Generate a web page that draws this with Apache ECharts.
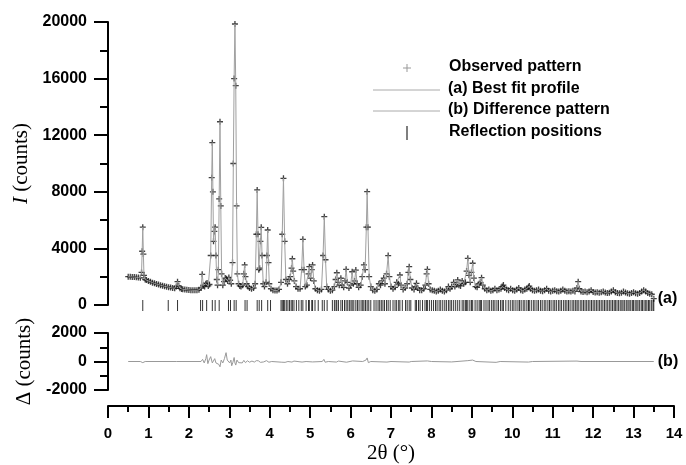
<!DOCTYPE html>
<html>
<head>
<meta charset="utf-8">
<script src="https://cdn.jsdelivr.net/npm/echarts@6/dist/echarts.min.js"></script>
<style>
html,body{margin:0;padding:0;background:#fff;}
#chart{width:686px;height:465px;}
</style>
</head>
<body>
<div id="chart"></div>
<script>
// ---- Observed / fitted profile, [2θ (°), I (counts)] ----
const profileA = [
 [0.50,2000],[0.55,1990],[0.60,1980],[0.65,1970],[0.70,1955],[0.75,1940],[0.80,1920],
 [0.83,2300],[0.845,3800],[0.86,5500],[0.875,3600],[0.89,2100],[0.92,1800],[0.95,1760],
 [1.00,1700],[1.05,1640],[1.10,1580],[1.15,1530],[1.20,1480],[1.25,1440],[1.30,1400],
 [1.35,1360],[1.40,1320],[1.45,1290],[1.50,1260],[1.55,1230],[1.60,1200],[1.65,1180],
 [1.69,1300],[1.72,1650],[1.75,1350],[1.78,1180],[1.82,1130],[1.85,1110],[1.90,1090],
 [1.95,1075],[2.00,1060],[2.05,1050],[2.10,1040],[2.15,1035],[2.20,1040],[2.25,1070]
];
const profileB = [
 [2.30,1200],[2.33,2170],[2.36,1400],[2.39,1300],[2.42,1500],[2.45,1550],[2.48,1350],
 [2.51,1450],[2.54,3500],[2.565,9000],[2.58,11470],[2.595,8000],[2.61,4500],[2.63,5200],
 [2.65,5500],[2.67,3500],[2.69,1800],[2.71,1400],[2.73,2500],[2.75,7500],[2.77,12950],
 [2.79,7000],[2.81,2200],[2.84,1400],[2.87,1650],[2.90,1900],[2.93,1850],[2.96,1700],
 [2.99,1950],[3.02,1750],[3.05,1500],[3.08,3000],[3.10,10000],[3.12,16000],[3.14,19860],
 [3.16,15500],[3.18,7000],[3.20,2200],[3.23,1500],[3.26,1350],[3.29,1300],[3.33,1400],
 [3.36,2200],[3.38,2830],[3.40,2000],[3.43,1500],[3.46,1300],[3.50,1200],[3.55,1150],
 [3.60,1200],[3.64,1500],[3.67,5000],[3.69,8130],[3.71,5000],[3.73,2500],[3.75,2600],
 [3.77,4500],[3.79,5490],[3.81,3500],[3.84,1500],[3.87,1300],[3.91,1600],[3.93,3500],
 [3.95,5300],[3.97,3000],[3.99,1500],[4.03,1150],[4.08,1050],[4.13,1020],[4.18,1020],
 [4.23,1100],[4.28,1600],[4.31,5000],[4.34,8950],[4.37,4500],[4.40,1800],[4.44,1500],
 [4.48,1800],[4.51,2000],[4.54,2600],[4.56,3270],[4.58,2400],[4.61,1700],[4.65,1300],
 [4.70,1150]
];
const profileC = [
 [4.75,1150],[4.79,2500],[4.82,4640],[4.85,2500],[4.88,1300],[4.92,1400],[4.96,2200],
 [4.98,2710],[5.01,1900],[5.04,2500],[5.06,2830],[5.09,1700],[5.13,1150],[5.18,1050],
 [5.23,1000],[5.28,1100],[5.32,3500],[5.35,6240],[5.38,3200],[5.41,1300],[5.45,1100],
 [5.50,1000],[5.55,1050],[5.60,1300],[5.63,1800],[5.66,2280],[5.69,1600],[5.72,1400],
 [5.76,1890],[5.79,1400],[5.83,1250],[5.86,1700],[5.89,2520],[5.92,1600],[5.96,1200],
 [6.00,1400],[6.04,2350],[6.07,1500],[6.10,1700],[6.13,2470],[6.16,1500],[6.20,1250],
 [6.25,1400],[6.29,2000],[6.33,2830],[6.36,2500],[6.39,5500],[6.41,8010],[6.43,5500],
 [6.46,2000],[6.50,1300],[6.55,1050],[6.60,1000],[6.65,1100],[6.70,1500],[6.74,1400],
 [6.78,1700],[6.82,1900],[6.85,1500],[6.89,2200],[6.93,3490],[6.96,2000],[7.00,1300],
 [7.05,1150],[7.10,1250],[7.14,1600],[7.18,1500],[7.22,2120],[7.25,1400],[7.30,1100],
 [7.35,1200],[7.40,1500],[7.43,2300],[7.45,2710],[7.48,1800],[7.52,1200],[7.57,1100],
 [7.60,1300],[7.63,1530],[7.66,1200],[7.71,1050],[7.76,1050],[7.81,1150],[7.85,1400],
 [7.88,2200],[7.90,2520],[7.93,1500],[7.97,1100]
];
const profileD = [
 [8.02,1050],[8.07,1000],[8.12,950],[8.17,1000],[8.22,1100],[8.27,1000],[8.32,950],
 [8.37,1050],[8.42,1300],[8.46,1150],[8.50,1300],[8.55,1600],[8.58,1300],[8.62,1450],
 [8.65,1770],[8.68,1400],[8.72,1350],[8.76,1700],[8.80,1500],[8.84,1600],[8.87,2400],
 [8.90,3300],[8.93,2100],[8.96,1600],[8.99,2300],[9.02,2950],[9.05,1900],[9.09,1300],
 [9.13,1250],[9.18,1500],[9.21,1600],[9.24,1930],[9.27,1400],[9.32,1150],[9.37,1050],
 [9.42,1100],[9.47,1000],[9.52,1050],[9.57,1150],[9.62,1050],[9.67,1100],[9.72,1150],
 [9.75,1300],[9.78,1410],[9.81,1200],[9.86,1100],[9.91,1050],[9.96,1150],[10.01,1050],
 [10.06,1000],[10.11,1100],[10.16,1200],[10.21,1050],[10.26,1000],[10.31,1100],[10.36,1150],
 [10.40,1250],[10.42,1340],[10.45,1150],[10.50,1050],[10.55,1000],[10.60,1050],[10.65,1100],
 [10.70,1000],[10.75,980],[10.80,1050],[10.85,1150],[10.90,1000],[10.95,960],[11.00,1000],
 [11.05,1050],[11.10,980],[11.15,950],[11.20,1000],[11.25,1100],[11.30,1000],[11.35,950],
 [11.40,980],[11.45,950],[11.50,1000],[11.55,960],[11.60,1200],[11.63,1650],[11.66,1150],
 [11.70,950],[11.75,920],[11.80,950],[11.85,900],[11.90,950],[11.95,1050],[12.00,920],
 [12.05,880],[12.10,900],[12.15,870],[12.20,900],[12.25,950],[12.30,880],[12.35,850],
 [12.40,870],[12.45,950],[12.50,1050],[12.55,900],[12.60,850],[12.65,830],[12.70,860],
 [12.75,950],[12.80,880],[12.85,830],[12.90,800],[12.95,850],[13.00,900],[13.05,830],
 [13.10,800],[13.15,850],[13.20,950],[13.25,1050],[13.30,950],[13.35,850],[13.40,800],
 [13.45,760],[13.50,450]
];

// ---- Difference pattern, [2θ, Δ] ----
const differenceProfile = [
 [0.50,0],[0.80,0],[0.84,100],[0.86,-80],[0.88,60],[0.92,0],[1.70,0],[1.72,60],[1.74,0],
 [2.30,0],[2.34,150],[2.38,-100],[2.42,200],[2.44,480],[2.47,-150],[2.50,100],[2.54,340],
 [2.58,-100],[2.61,-190],[2.64,200],[2.67,-100],[2.70,0],[2.74,-200],[2.77,-370],[2.80,100],
 [2.84,-100],[2.88,200],[2.92,620],[2.95,100],[2.98,160],[3.01,-100],[3.04,100],[3.06,-300],
 [3.09,-50],[3.12,280],[3.14,-100],[3.16,-250],[3.19,100],[3.23,-80],[3.27,50],[3.32,-100],
 [3.36,80],[3.40,-80],[3.45,50],[3.50,-50],[3.56,30],[3.62,-40],[3.67,60],[3.69,-80],
 [3.72,50],[3.77,-60],[3.80,40],[3.85,-30],[3.92,60],[3.95,100],[3.98,-50],[4.05,0],
 [4.30,-50],[4.34,-120],[4.38,-60],[4.45,0],[4.55,-40],[4.60,30],[4.80,-40],[4.82,60],
 [4.90,0],[5.06,-30],[5.30,0],[5.34,150],[5.37,-50],[5.45,0],[5.65,-40],[5.70,30],
 [5.90,-50],[6.05,40],[6.30,0],[6.38,100],[6.41,250],[6.44,-80],[6.50,0],[6.90,-40],
 [6.93,50],[7.00,0],[7.45,-40],[7.50,0],[7.90,40],[8.00,0],[8.50,-30],[8.90,60],
 [9.02,100],[9.10,0],[9.60,-60],[9.70,0],[10.40,-40],[10.50,0],[11.60,30],[11.70,0],[13.50,0]
];

// ---- Reflection positions (2θ, °) ----
const reflectionsLow = [0.86,1.49,1.72,2.29,2.34,2.44,2.58,2.65,2.75,2.98,3.03,3.12,3.17,
 3.39,3.44,3.69,3.74,3.80,3.95,4.02];
const reflectionsMid = [4.28,4.31,4.34,4.37,4.41,4.45,4.49,4.53,4.56,4.60,4.66,4.72,4.78,4.82,
 4.90,4.96,4.98,5.04,5.06,5.12,5.20,5.30,5.35,5.42,5.55,5.60,5.64,5.66,5.70,5.76,5.80,5.85,
 5.89,5.93,5.97,6.01,6.04,6.08,6.13,6.17,6.21,6.26,6.30,6.33,6.37,6.41,6.45,6.50,6.58,6.63,
 6.68,6.72,6.76,6.80,6.84,6.89,6.93,6.98,7.05,7.10,7.14,7.19,7.22,7.28,7.36,7.40,7.45,7.49,
 7.60,7.63,7.68,7.72,7.78,7.84,7.88,7.90,7.95,8.00,8.05,8.10,8.14,8.19,8.23,8.28,8.33,8.37,
 8.42,8.46,8.50,8.55,8.60,8.65,8.70,8.76,8.80,8.84,8.87,8.90,8.95,8.99,9.02,9.08,9.13,9.18];
const reflectionsHigh = [9.21,9.24,9.30,9.35,9.40,9.44,9.49,9.53,9.57,9.62,9.66,9.71,9.75,9.78,
 9.84,9.90,9.95,10.00,10.04,10.09,10.14,10.18,10.22,10.27,10.31,10.36,10.40,10.42,10.47,10.52,
 10.56,10.61,10.65,10.70,10.74,10.79,10.83,10.88,10.92,10.96,11.01,11.05,11.09,11.14,11.18,
 11.22,11.27,11.31,11.35,11.39,11.43,11.48,11.52,11.56,11.60,11.63,11.68,11.72,11.76,11.80,
 11.84,11.88,11.92,11.96,12.00,12.04,12.08,12.12,12.16,12.20,12.24,12.28,12.32,12.36,12.40,
 12.44,12.48,12.52,12.55,12.59,12.63,12.67,12.71,12.74,12.78,12.82,12.86,12.89,12.93,12.97,
 13.00,13.04,13.08,13.11,13.15,13.19,13.22,13.26,13.30,13.33,13.37,13.40,13.44,13.48,13.50];

// ---- Axis ticks / labels ----
const xTicks = {min: 0, max: 14, interval: 1};
const yTopTicks = {min: 0, max: 20000, interval: 4000};
const yBottomTicks = {min: -2000, max: 2000, interval: 2000};
const legendLabels = ['Observed pattern', '(a) Best fit profile', '(b) Difference pattern', 'Reflection positions'];

const observed = profileA.concat(profileB, profileC, profileD);
const calculated = observed;
const reflections = reflectionsLow.concat(reflectionsMid, reflectionsHigh).map(v => [v, 0.5]);

const SANS = 'Liberation Sans, Arial, sans-serif';
const SERIF = 'Liberation Serif, Times New Roman, serif';
const plusPath = 'path://M3.9,0h2.2v3.9h3.9v2.2h-3.9v3.9h-2.2v-3.9h-3.9v-2.2h3.9z';

const axisLineStyle = {color: '#000', width: 2};
const plainNumber = v => String(v);
const xLabelStyle = {color: '#000', fontFamily: SANS, fontWeight: 'bold', fontSize: 15, formatter: plainNumber};
const yLabelStyle = {color: '#000', fontFamily: SANS, fontWeight: 'bold', fontSize: 16, formatter: plainNumber};
const nameStyle = {fontFamily: SERIF, fontSize: 21, color: '#000'};

const chart = echarts.init(document.getElementById('chart'), null, {renderer: 'canvas'});
chart.setOption({
  animation: false,
  backgroundColor: '#fff',
  grid: [
    {left: 108, right: 12, top: 22, height: 283},
    {left: 108, right: 12, top: 333, height: 57},
    {left: 108, right: 12, top: 299, height: 13}
  ],
  xAxis: [
    {gridIndex: 0, type: 'value', min: xTicks.min, max: xTicks.max, show: false},
    {gridIndex: 1, type: 'value', min: xTicks.min, max: xTicks.max, interval: xTicks.interval,
     position: 'bottom', offset: 16,
     axisLine: {show: true, onZero: false, lineStyle: axisLineStyle},
     axisTick: {show: true, length: 12, lineStyle: {color: '#000', width: 2}},
     minorTick: {show: true, splitNumber: 2, length: 6, lineStyle: {color: '#000', width: 2}},
     splitLine: {show: false},
     axisLabel: Object.assign({margin: 20}, xLabelStyle),
     name: '2θ (°)', nameLocation: 'middle', nameGap: 37,
     nameTextStyle: nameStyle},
    {gridIndex: 2, type: 'value', min: xTicks.min, max: xTicks.max, show: false}
  ],
  yAxis: [
    {gridIndex: 0, type: 'value', min: yTopTicks.min, max: yTopTicks.max, interval: yTopTicks.interval,
     axisLine: {show: true, onZero: false, lineStyle: axisLineStyle},
     axisTick: {show: true, length: 14, lineStyle: {color: '#000', width: 2}},
     minorTick: {show: true, splitNumber: 2, length: 8, lineStyle: {color: '#000', width: 2}},
     splitLine: {show: false},
     axisLabel: Object.assign({margin: 21}, yLabelStyle),
     name: '{i|I} (counts)', nameLocation: 'middle', nameGap: 72,
     nameTextStyle: Object.assign({rich: {i: Object.assign({fontStyle: 'italic'}, nameStyle)}}, nameStyle)},
    {gridIndex: 1, type: 'value', min: yBottomTicks.min, max: yBottomTicks.max, interval: yBottomTicks.interval,
     axisLine: {show: true, onZero: false, lineStyle: axisLineStyle},
     axisTick: {show: true, length: 14, lineStyle: {color: '#000', width: 2}},
     minorTick: {show: true, splitNumber: 2, length: 8, lineStyle: {color: '#000', width: 2}},
     splitLine: {show: false},
     axisLabel: Object.assign({margin: 21}, yLabelStyle),
     name: 'Δ (counts)', nameLocation: 'middle', nameGap: 72,
     nameTextStyle: nameStyle},
    {gridIndex: 2, type: 'value', min: 0, max: 1, show: false}
  ],
  series: [
    {name: legendLabels[0], type: 'scatter', xAxisIndex: 0, yAxisIndex: 0,
     data: observed, symbol: plusPath, symbolSize: 6,
     itemStyle: {color: '#111'}, z: 2, silent: true},
    {name: legendLabels[1], type: 'line', xAxisIndex: 0, yAxisIndex: 0,
     data: calculated, showSymbol: false, symbol: 'none',
     lineStyle: {color: '#a0a0a0', width: 1}, z: 3, silent: true,
     endLabel: {show: true, formatter: '(a)', distance: 4, color: '#000',
       fontFamily: SANS, fontWeight: 'bold', fontSize: 16}},
    {name: legendLabels[2], type: 'line', xAxisIndex: 1, yAxisIndex: 1,
     data: differenceProfile, showSymbol: false, symbol: 'none',
     lineStyle: {color: '#999', width: 1}, silent: true,
     endLabel: {show: true, formatter: '(b)', distance: 4, color: '#000',
       fontFamily: SANS, fontWeight: 'bold', fontSize: 16}},
    {name: legendLabels[3], type: 'scatter', xAxisIndex: 2, yAxisIndex: 2,
     data: reflections, symbol: 'rect', symbolSize: [1, 11],
     itemStyle: {color: '#000'}, silent: true}
  ],
  graphic: [
    {type: 'polyline', shape: {points: [[403, 68], [411, 68]]}, style: {stroke: '#999', lineWidth: 1}},
    {type: 'polyline', shape: {points: [[407, 64], [407, 72]]}, style: {stroke: '#999', lineWidth: 1}},
    {type: 'text', left: 449, top: 59, style: {text: legendLabels[0], fill: '#000', font: 'bold 16px ' + SANS}},
    {type: 'polyline', shape: {points: [[373, 90], [440, 90]]}, style: {stroke: '#aaa', lineWidth: 1}},
    {type: 'text', left: 448, top: 81, style: {text: legendLabels[1], fill: '#000', font: 'bold 16px ' + SANS}},
    {type: 'polyline', shape: {points: [[373, 111], [440, 111]]}, style: {stroke: '#aaa', lineWidth: 1}},
    {type: 'text', left: 448, top: 102, style: {text: legendLabels[2], fill: '#000', font: 'bold 16px ' + SANS}},
    {type: 'polyline', shape: {points: [[407, 126], [407, 140]]}, style: {stroke: '#555', lineWidth: 1.5}},
    {type: 'text', left: 449, top: 124, style: {text: legendLabels[3], fill: '#000', font: 'bold 16px ' + SANS}}
  ]
});
</script>
</body>
</html>
